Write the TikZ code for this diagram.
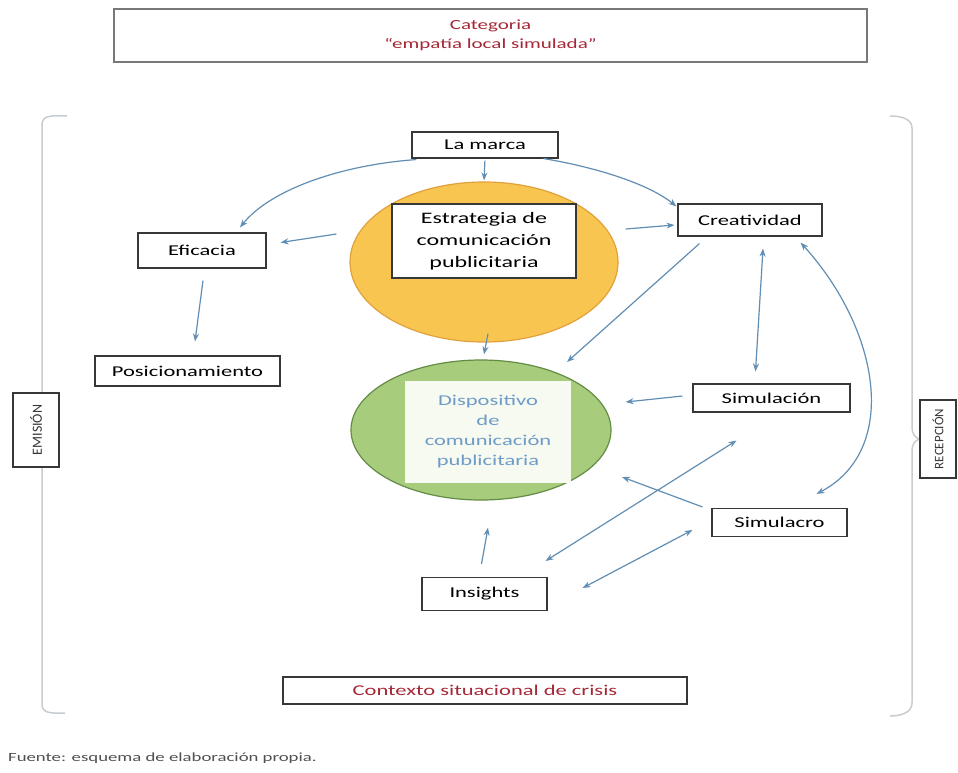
\documentclass[tikz,border=0pt]{standalone}
\usepackage{fontspec}
\setmainfont{Carlito}[FakeStretch=1.5]
\newfontfamily\plainfont{Carlito}
\usetikzlibrary{arrows.meta,shapes.geometric,calc}
\definecolor{arr}{RGB}{98,142,180}
\definecolor{boxc}{RGB}{55,55,55}
\definecolor{redt}{RGB}{165,40,55}
\definecolor{orfill}{RGB}{248,198,80}
\definecolor{ordraw}{RGB}{226,160,60}
\definecolor{grfill}{RGB}{166,204,124}
\definecolor{grdraw}{RGB}{100,140,70}
\definecolor{bluet}{RGB}{110,155,200}
\definecolor{brk}{RGB}{200,205,210}
\begin{document}
\begin{tikzpicture}[x=1pt,y=-1pt,
  box/.style={draw=boxc, line width=1.1pt, fill=white, inner sep=0pt, text=black,
    font=\fontsize{15}{20}\selectfont, align=center},
  ar/.style={draw=arr, line width=1.2pt, -{Stealth[length=8pt,width=6pt]}},
  dar/.style={draw=arr, line width=1.2pt, {Stealth[length=8pt,width=6pt]}-{Stealth[length=8pt,width=6pt]}},
  side/.style={draw=boxc, line width=1.3pt, fill=white, inner sep=0pt, text=boxc,
    font=\plainfont\fontsize{11}{13}\selectfont}]
\useasboundingbox[fill=white] (0,0) rectangle (958,772);

% top category
\node[box, draw={rgb,255:red,120;green,120;blue,120}, minimum width=753pt, minimum height=53pt, text=redt,
  font=\fontsize{14}{19}\selectfont] (cat) at (490.5,35.5)
  {Categoria\\“empatía local simulada”};

% brackets
\draw[brk, line width=1.5pt] (67,116) to[out=180,in=90] (42,124) -- (42,705) to[out=-90,in=180] (65,713);
\draw[brk, line width=1.5pt] (890,116) to[out=0,in=90] (912,128) -- (912,428) to[out=-90,in=180] (921,439)
  to[out=180,in=90] (912,450) -- (912,703) to[out=-90,in=0] (890,716);
\node[side, minimum width=46pt, minimum height=74pt] (emision) at (36,430) {};
\node[rotate=90, text=boxc, font=\plainfont\fontsize{14}{16}\selectfont] at (emision.center) {EMISIÓN};
\node[side, minimum width=36pt, minimum height=78pt] (recepcion) at (938,439) {};
\node[rotate=90, text=boxc, font=\plainfont\fontsize{13}{15}\selectfont] at (recepcion.center) {RECEPCIÓN};

% ellipses
\node[ellipse, draw=ordraw, fill=orfill, line width=1.2pt, minimum width=268pt, minimum height=160pt, inner sep=0pt] (orange) at (484,262) {};
\node[box, minimum width=184pt, minimum height=74pt, font=\fontsize{16}{22}\selectfont] (estr) at (484,241)
  {Estrategia de\\comunicación\\publicitaria};
\node[ellipse, draw=grdraw, fill=grfill, line width=1.2pt, minimum width=260pt, minimum height=140pt, inner sep=0pt] (green) at (481,430) {};
\node[fill={rgb,255:red,246;green,250;blue,240}, inner sep=0pt, minimum width=166pt, minimum height=102pt,
  text=bluet, align=center, font=\fontsize{15}{20}\selectfont] (disp) at (488,432)
  {Dispositivo\\de\\comunicación\\publicitaria};

% boxes
\node[box, minimum width=146pt, minimum height=26pt] (marca) at (485,145) {La marca};
\node[box, minimum width=128pt, minimum height=35pt] (efic) at (202,250.5) {Eficacia};
\node[box, minimum width=185pt, minimum height=30pt] (pos) at (187.5,371) {Posicionamiento};
\node[box, minimum width=144pt, minimum height=32pt] (creat) at (750,220) {Creatividad};
\node[box, minimum width=157pt, minimum height=28pt] (simul) at (771.5,398) {Simulación};
\node[box, minimum width=135pt, minimum height=28pt] (simulacro) at (779.5,522.5) {Simulacro};
\node[box, minimum width=125pt, minimum height=33pt] (insights) at (484.5,594) {Insights};
\node[box, minimum width=404pt, minimum height=27pt, text=redt] (contexto) at (485,690.5) {Contexto situacional de crisis};

% footer
\node[anchor=west, text={rgb,255:red,80;green,80;blue,80}, inner sep=0pt, font=\fontsize{12.5}{15}\selectfont] (fuente) at (8,758)
  {Fuente: esquema de elaboración propia.};

% arrows
\draw[ar, shorten <=2pt, shorten >=1pt] (marca.south) -- (orange.north);
\draw[ar] ($(marca.south west)+(5,1)$) .. controls (340,165) and (270,190) .. ($(efic.north)+(38,-5)$);
\draw[ar] ($(marca.south east)+(-15,0)$) .. controls (600,168) and (650,185) .. ($(creat.north west)+(-1,3)$);
\draw[ar] ($(orange.west)+(-13,-28)$) -- ($(efic.east)+(14,-8)$);
\draw[ar] ($(orange.east)+(7,-33)$) -- ($(creat.west)+(-3,5)$);
\draw[ar] ($(orange.south)+(4,-9)$) -- ($(green.north)+(3,-5)$);
\draw[ar] ($(creat.south west)+(22,7)$) -- ($(green.center)+(86,-68)$);
\draw[dar] ($(creat.south)+(13,12)$) -- ($(simul.north)+(-16,-12)$);
\draw[ar] ($(simul.west)+(-10,-2)$) -- ($(green.east)+(14,-28)$);
\draw[dar] ($(creat.south east)+(-22,6)$) .. controls (880,330) and (900,450) .. ($(simulacro.north)+(37,-14)$);
\draw[ar] ($(simulacro.north west)+(-9,-1)$) -- ($(green.center)+(141,47)$);
\draw[dar] ($(insights.north east)+(-2,-16)$) -- ($(simul.south)+(-35,28)$);
\draw[dar] ($(insights.east)+(35,-6)$) -- ($(simulacro.west)+(-19,7.5)$);
\draw[ar] ($(insights.north)+(-3,-13)$) -- ($(green.south)+(7,27)$);
\draw[ar] ($(efic.south)+(1,12)$) -- ($(pos.north)+(7.5,-14)$);
\end{tikzpicture}
\end{document}
